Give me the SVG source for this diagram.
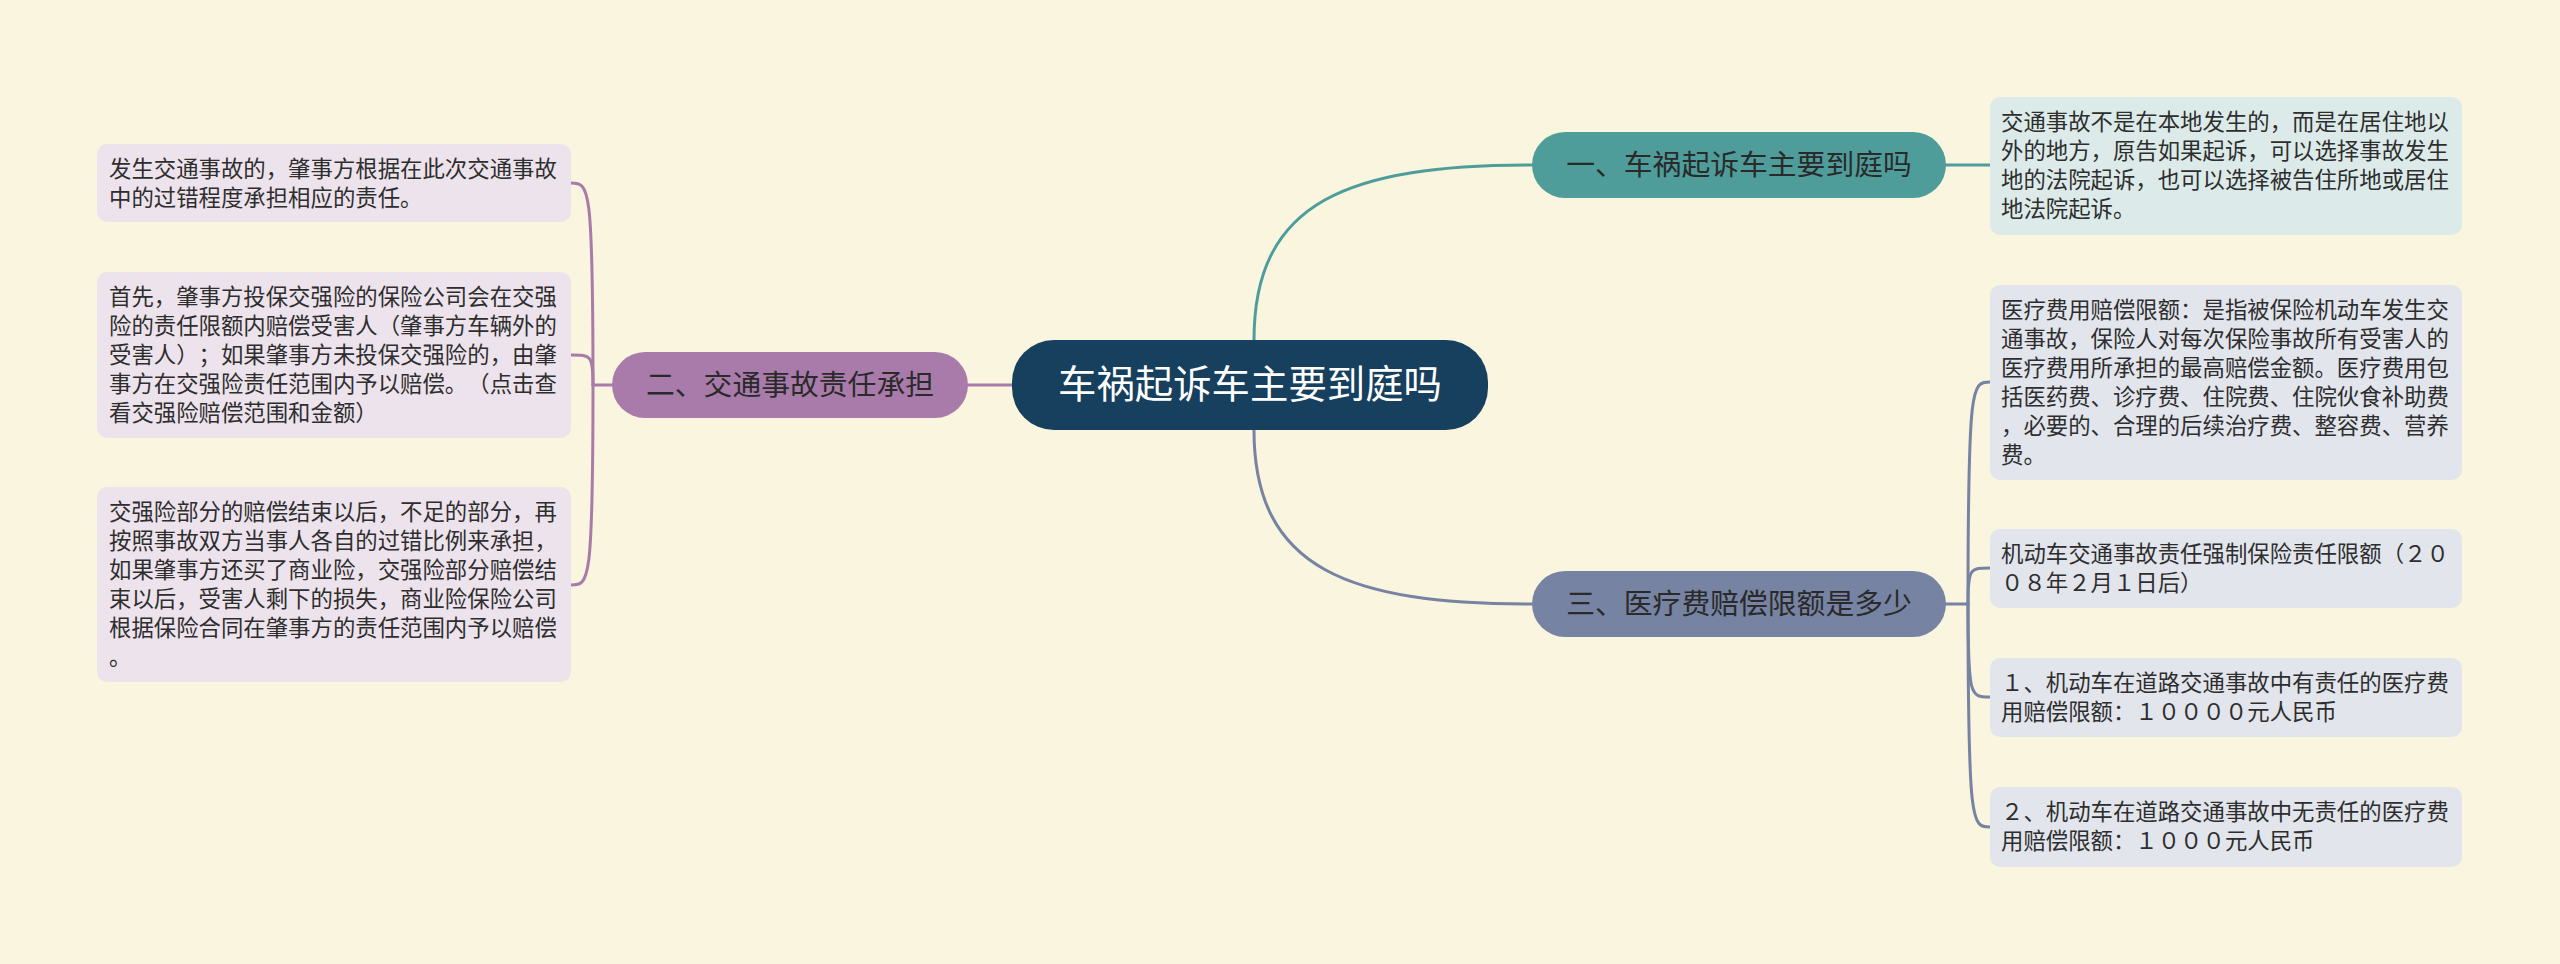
<svg xmlns="http://www.w3.org/2000/svg" width="2560" height="964" viewBox="0 0 2560 964">
<style>
text{font-family:"Noto Sans CJK SC","Noto Sans",sans-serif;text-spacing-trim:space-all;}
.t{font-size:22.4px;fill:#2e2e2e;}
.n{font-size:28.8px;fill:#2a2a2a;text-anchor:middle;}
.c{font-size:38.4px;fill:#ffffff;text-anchor:middle;}
.ln{fill:none;stroke-width:3;stroke-linecap:round;}
.teal{stroke:#4E9D9B;}
.pur{stroke:#A97BAA;}
.sla{stroke:#7683A3;}
.bt{fill:#DCEBE9;}
.br{fill:#E2E5EC;}
.bl{fill:#EDE3EC;}
</style>
<rect width="2560" height="964" fill="#FAF5DF"/>
<g id="connectors">
<path class="ln teal" d="M1254,340 C1254,200 1350,165 1532,165"/>
<path class="ln sla" d="M1254,430 C1254,570 1350,604 1532,604"/>
<path class="ln pur" d="M968,385 L1012,385"/>
<path class="ln teal" d="M1946,165 L1990,165"/>
<path class="ln sla" d="M1946,604 L1968,604"/>
<path class="ln sla" d="M1968,604 C1968,382 1972,382 1990,382"/>
<path class="ln sla" d="M1968,604 C1968,568 1970,568 1990,568"/>
<path class="ln sla" d="M1968,604 C1968,697 1970,697 1990,697"/>
<path class="ln sla" d="M1968,604 C1968,827 1972,827 1990,827"/>
<path class="ln pur" d="M612,385 L593,385"/>
<path class="ln pur" d="M593,385 C593,183 589,183 571,183"/>
<path class="ln pur" d="M593,385 C593,355 591,355 571,355"/>
<path class="ln pur" d="M593,385 C593,585 589,585 571,585"/>
</g>
<g id="root">
<rect x="1012" y="340" width="476" height="90" rx="42" fill="#173F5E"/>
<text class="c" x="1250" y="398">车祸起诉车主要到庭吗</text>
</g>
<g id="n1">
<rect x="1532" y="132" width="414" height="66" rx="33" fill="#4E9D9B"/>
<text class="n" x="1739" y="175">一、车祸起诉车主要到庭吗</text>
</g>
<g id="n2">
<rect x="612" y="352" width="356" height="66" rx="33" fill="#A97BAA"/>
<text class="n" x="790" y="395">二、交通事故责任承担</text>
</g>
<g id="n3">
<rect x="1532" y="571" width="414" height="66" rx="33" fill="#7683A3"/>
<text class="n" x="1739" y="614">三、医疗费赔偿限额是多少</text>
</g>
<g id="n1a">
<rect class="bt" x="1990" y="97" width="472" height="138" rx="10"/>
<text class="t" x="2001"><tspan x="2001" y="130">交通事故不是在本地发生的，而是在居住地以</tspan><tspan x="2001" y="159">外的地方，原告如果起诉，可以选择事故发生</tspan><tspan x="2001" y="188">地的法院起诉，也可以选择被告住所地或居住</tspan><tspan x="2001" y="217">地法院起诉。</tspan></text>
</g>
<g id="n3a">
<rect class="br" x="1990" y="285" width="472" height="195" rx="10"/>
<text class="t"><tspan x="2001" y="318">医疗费用赔偿限额：是指被保险机动车发生交</tspan><tspan x="2001" y="347">通事故，保险人对每次保险事故所有受害人的</tspan><tspan x="2001" y="376">医疗费用所承担的最高赔偿金额。医疗费用包</tspan><tspan x="2001" y="405">括医药费、诊疗费、住院费、住院伙食补助费</tspan><tspan x="2001" y="434">，必要的、合理的后续治疗费、整容费、营养</tspan><tspan x="2001" y="463">费。</tspan></text>
</g>
<g id="n3b">
<rect class="br" x="1990" y="529" width="472" height="79" rx="10"/>
<text class="t"><tspan x="2001" y="562">机动车交通事故责任强制保险责任限额（２０</tspan><tspan x="2001" y="591">０８年２月１日后）</tspan></text>
</g>
<g id="n3c">
<rect class="br" x="1990" y="658" width="472" height="79" rx="10"/>
<text class="t"><tspan x="2001" y="691">１、机动车在道路交通事故中有责任的医疗费</tspan><tspan x="2001" y="720">用赔偿限额：１００００元人民币</tspan></text>
</g>
<g id="n3d">
<rect class="br" x="1990" y="787" width="472" height="80" rx="10"/>
<text class="t"><tspan x="2001" y="820">２、机动车在道路交通事故中无责任的医疗费</tspan><tspan x="2001" y="849">用赔偿限额：１０００元人民币</tspan></text>
</g>
<g id="n2a">
<rect class="bl" x="97" y="144" width="474" height="78" rx="10"/>
<text class="t"><tspan x="109" y="177">发生交通事故的，肇事方根据在此次交通事故</tspan><tspan x="109" y="206">中的过错程度承担相应的责任。</tspan></text>
</g>
<g id="n2b">
<rect class="bl" x="97" y="272" width="474" height="166" rx="10"/>
<text class="t"><tspan x="109" y="305">首先，肇事方投保交强险的保险公司会在交强</tspan><tspan x="109" y="334">险的责任限额内赔偿受害人（肇事方车辆外的</tspan><tspan x="109" y="363">受害人）；如果肇事方未投保交强险的，由肇</tspan><tspan x="109" y="392">事方在交强险责任范围内予以赔偿。（点击查</tspan><tspan x="109" y="421">看交强险赔偿范围和金额）</tspan></text>
</g>
<g id="n2c">
<rect class="bl" x="97" y="487" width="474" height="195" rx="10"/>
<text class="t"><tspan x="109" y="520">交强险部分的赔偿结束以后，不足的部分，再</tspan><tspan x="109" y="549">按照事故双方当事人各自的过错比例来承担，</tspan><tspan x="109" y="578">如果肇事方还买了商业险，交强险部分赔偿结</tspan><tspan x="109" y="607">束以后，受害人剩下的损失，商业险保险公司</tspan><tspan x="109" y="636">根据保险合同在肇事方的责任范围内予以赔偿</tspan><tspan x="109" y="665">。</tspan></text>
</g>
</svg>
